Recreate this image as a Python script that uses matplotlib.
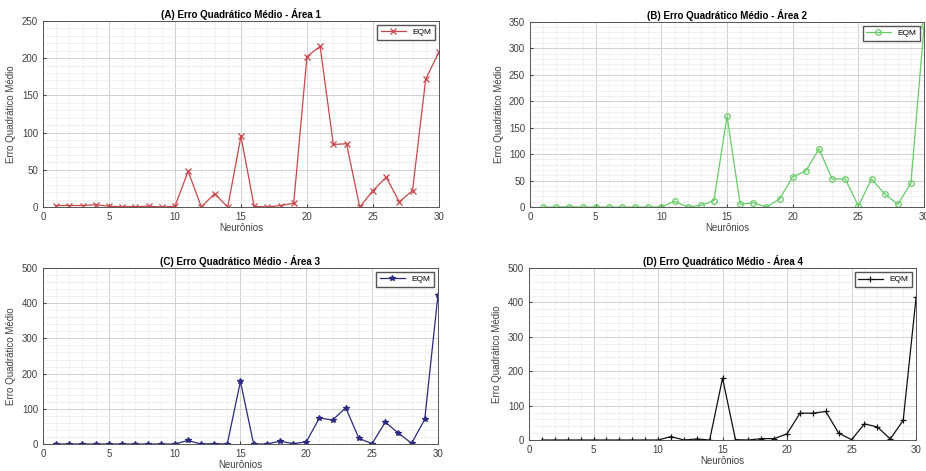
import matplotlib.pyplot as plt
from matplotlib.ticker import AutoMinorLocator

plt.rcParams['font.family'] = ['Liberation Sans', 'DejaVu Sans']

neurons = list(range(1, 31))

eqm_a1 = [2, 2, 2, 3, 1, 0.5, 0.5, 1, 0, 1, 48, 0, 18, 0, 95, 1, 0, 2, 5, 202,
          216, 84, 85, 0, 22, 40, 7, 22, 172, 208]
eqm_a2 = [0, 0, 0.5, 0, 0, 0, 0, 0, 0, 0, 11, 0, 3, 12, 172, 5, 8, 0, 15, 57,
          68, 110, 53, 53, 2, 53, 25, 5, 45, 342]
eqm_a3 = [0, 0, 0, 0, 0, 0, 0, 0, 0, 0, 10, 0, 1, 0, 178, 0, 0, 8, 1, 6,
          74, 68, 103, 16, 1, 62, 31, 2, 70, 422]
eqm_a4 = [0, 0, 0, 0, 0, 0, 0, 0, 0, 0, 10, 0, 3, 0, 180, 1, 0, 4, 4, 18,
          78, 78, 83, 20, 1, 47, 38, 3, 57, 415]

titles = ["(A) Erro Quadrático Médio - Área 1", "(B) Erro Quadrático Médio - Área 2",
          "(C) Erro Quadrático Médio - Área 3", "(D) Erro Quadrático Médio - Área 4"]
series = [eqm_a1, eqm_a2, eqm_a3, eqm_a4]
colors = ["#c8474a", "#66cc66", "#2a2a80", "#111111"]
markers = ["x", "o", "*", "+"]
ylims = [250, 350, 500, 500]
ysteps = [50, 50, 100, 100]

# axes boxes in figure fractions
boxes = [[0.0464, 0.5605, 0.4276, 0.395],
         [0.5724, 0.5605, 0.4255, 0.393],
         [0.0464, 0.0573, 0.4265, 0.3737],
         [0.5713, 0.0658, 0.418, 0.365]]

fig = plt.figure(figsize=(9.26, 4.71), dpi=100)

for i in range(4):
    ax = fig.add_axes(boxes[i])
    mfc = "none" if markers[i] == "o" else colors[i]
    ax.plot(neurons, series[i], color=colors[i], marker=markers[i], lw=0.9,
            ms=4, mfc=mfc, mew=0.9, label="EQM")
    ax.set_xlim(0, 30)
    ax.set_ylim(0, ylims[i])
    ax.set_xticks(range(0, 31, 5))
    ax.set_yticks(range(0, ylims[i] + 1, ysteps[i]))
    ax.xaxis.set_minor_locator(AutoMinorLocator(5))
    ax.yaxis.set_minor_locator(AutoMinorLocator(5))
    ax.grid(True, which="major", color="#d0d0d0", lw=0.7)
    ax.grid(True, which="minor", color="#ececec", lw=0.5)
    ax.set_axisbelow(True)
    ax.tick_params(labelsize=7, colors="#404040", length=2, direction="in")
    ax.tick_params(which="minor", length=0)
    for s in ax.spines.values():
        s.set_color("#555555")
        s.set_linewidth(0.7)
    ax.set_title(titles[i], fontsize=7, fontweight="bold", pad=2)
    ax.set_xlabel("Neurônios", fontsize=7, color="#404040", labelpad=1)
    ax.set_ylabel("Erro Quadrático Médio", fontsize=7, color="#404040", labelpad=4)
    ax.legend(loc="upper right", fontsize=6, fancybox=False, edgecolor="#555555",
              framealpha=1, handlelength=3, borderpad=0.4)

fig.savefig("out.png", dpi=100)
